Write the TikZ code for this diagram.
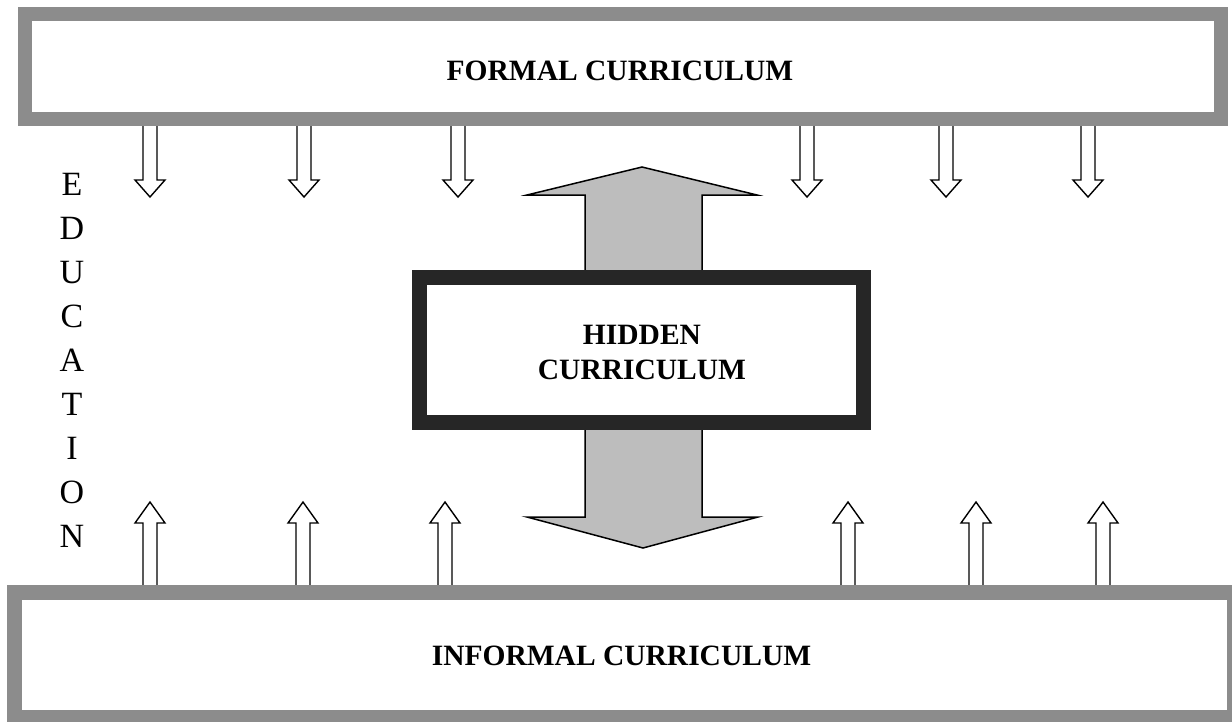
\documentclass[tikz,border=0pt]{standalone}
\usepackage{fontspec}
\setmainfont{Liberation Serif}
\definecolor{framegray}{gray}{0.55}
\definecolor{bigfill}{gray}{0.74}
\definecolor{darkframe}{gray}{0.15}
\tikzset{
  frame/.style={draw=framegray, line width=14pt, fill=white, inner sep=0pt, outer sep=0pt},
  hiddenframe/.style={draw=darkframe, line width=15pt, fill=white, inner sep=0pt, outer sep=0pt},
  title/.style={font=\fontsize{29.5}{35}\selectfont\bfseries, inner sep=0pt, align=center},
  vert/.style={font=\fontsize{34}{44}\selectfont, inner sep=0pt, align=center},
  smallarrow/.style={draw=black, fill=white, line width=1.4pt, line join=miter},
  bigarrow/.style={draw=black, fill=bigfill, line width=1.5pt, line join=miter}
}
\newcommand{\arrdown}[1]{%
  \draw[smallarrow] (#1-7,120) -- (#1-7,180) -- (#1-15,180) -- (#1,197) -- (#1+15,180) -- (#1+7,180) -- (#1+7,120) -- cycle;}
\newcommand{\arrup}[1]{%
  \draw[smallarrow] (#1-7,592) -- (#1-7,523) -- (#1-15,523) -- (#1,502) -- (#1+15,523) -- (#1+7,523) -- (#1+7,592) -- cycle;}
\begin{document}
\begin{tikzpicture}[x=1pt,y=-1pt]
\useasboundingbox (0,0) rectangle (1232,721);
\fill[white] (0,0) rectangle (1232,721);
% small arrows
\foreach \xx in {150,304,458,807,946,1088} {\arrdown{\xx}}
\foreach \xx in {150,303,445,848,976,1103} {\arrup{\xx}}
% big double arrow
\draw[bigarrow] (585,275) -- (585,195) -- (527,195) -- (642,167) -- (757,195) -- (702,195) -- (702,275) -- cycle;
\draw[bigarrow] (585,425) -- (585,517) -- (527,517) -- (643,548) -- (758,517) -- (702,517) -- (702,425) -- cycle;
% frames
\node[frame, minimum width=1196.5pt, minimum height=104.5pt] (formal) at (622.75,66.25) {};
\node[frame, line width=15pt, minimum width=1220pt, minimum height=125pt] (informal) at (624.5,655) {};
\node[hiddenframe, minimum width=444pt, minimum height=145pt] (hidden) at (641.5,349.5) {};
% texts
\node[title, anchor=base] (formaltext) at (620,80) {FORMAL CURRICULUM};
\node[title, anchor=base] (informaltext) at (621.5,665) {INFORMAL CURRICULUM};
\node[title] (hiddentext) at (642,352) {HIDDEN\\CURRICULUM};
\node[vert] (edu) at (72,360) {E\\D\\U\\C\\A\\T\\I\\O\\N};
\end{tikzpicture}
\end{document}
